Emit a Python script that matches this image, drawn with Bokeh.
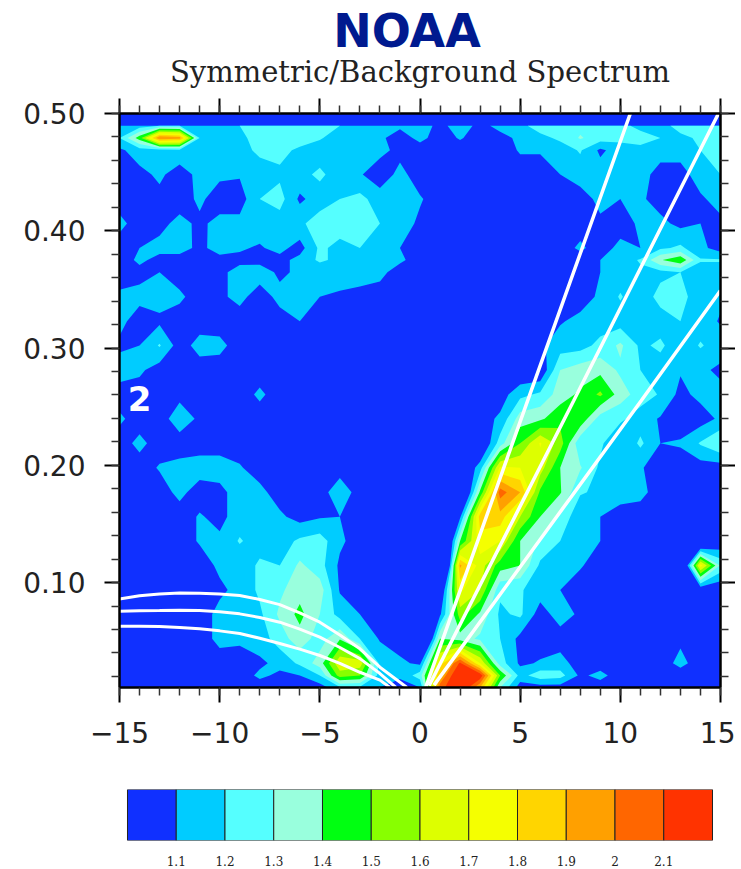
import numpy as np
from bokeh.plotting import figure
from bokeh.layouts import column
from bokeh.models import FixedTicker, LinearAxis, Label, Range1d
from bokeh.embed import file_html
from bokeh.resources import INLINE

wavenumber = list(range(-15, 16))
freq = [0.0104,0.0208,0.0312,0.0521,0.0729,0.0937,0.1146,0.1354,0.1562,0.1771,0.1979,0.2187,0.2396,0.2604,
        0.2812,0.3021,0.3229,0.3437,0.3646,0.3750,0.3854,0.4062,0.4271,0.4479,0.4687,0.4792,0.4896]

# ratio x 100, wavenumbers -15..0 | 1..15
r00 = [105,105,105,105,105,105,105,105,105,105,105,118,118,110,105,110, 205,225,190,130,105,105,105,105,105,105,105,105,105,105,105]
r01 = [105,105,105,105,105,105,105,112,108,110,120,155,150,115,112,125, 190,225,218,150,116,126,124,108,113,105,105,105,105,105,105]
r02 = [105,105,105,105,105,105,105,108,113,122,135,168,166,117,112,108, 175,212,170,125,108,111,114,105,105,105,105,105,113,105,105]
r03 = [105,105,105,105,105,113,112,115,125,136,125,139,120,109,105,60, 140,135,128,120,107,105,105,105,105,105,105,105,108,105,105]
r04 = [105,105,105,105,105,113,113,118,132,143,130,116,110,105,105,105, 108,155,138,118,122,105,115,108,105,105,105,105,105,105,105]
r05 = [105,105,105,105,105,108,113,122,128,136,135,109,105,105,105,90, 93,172,160,122,121,115,110,105,105,105,105,105,105,100,100]
r06 = [105,105,105,105,105,112,113,122,120,132,124,108,105,105,105,105, 30,192,165,145,140,118,113,111,105,105,105,105,75,175,128]
r07 = [105,105,105,105,111,112,121,115,115,122,125,112,105,105,105,105, 60,140,176,170,140,128,120,114,110,105,105,105,105,80,100]
r08 = [105,105,105,105,111,107,115,115,112,106,109,110,105,105,105,105, 105,108,185,186,160,140,127,113,110,105,105,105,105,105,105]
r09 = [105,105,105,113,105,107,115,113,105,105,105,117,105,105,105,105, 105,76,142,205,190,148,141,121,118,115,113,105,105,105,105]
r10 = [105,105,111,113,115,115,111,105,105,105,105,105,105,105,105,105, 105,95,115,172,170,165,140,131,118,115,111,105,105,105,105]
r11 = [105,113,105,105,105,105,105,105,105,105,105,105,105,105,105,105, 105,105,95,125,150,171,155,122,122,110,122,110,111,121,130]
r12 = [112,105,105,116,108,105,105,105,105,105,105,105,105,105,105,105, 105,105,105,112,135,138,147,148,125,122,115,109,105,105,112]
r13 = [105,105,108,107,105,105,105,112,105,105,105,105,105,105,105,105, 105,105,105,105,117,122,135,142,152,135,125,119,107,113,113]
r14 = [115,112,105,105,105,105,105,105,105,105,105,105,105,105,105,105, 105,105,105,105,100,100,130,135,137,128,120,115,111,112,108]
r15 = [108,110,121,105,114,113,105,105,105,105,105,105,105,105,105,105, 105,105,105,105,105,108,115,116,123,132,118,122,113,121,115]
r16 = [113,105,108,105,105,105,105,108,106,110,105,108,105,105,105,105, 105,105,105,105,105,105,109,113,115,115,118,115,120,115,109]
r17 = [112,113,114,112,105,108,113,105,113,115,110,108,105,105,105,105, 105,105,105,105,105,105,105,105,112,121,113,124,123,115,112]
r18 = [105,107,110,105,105,108,113,115,108,112,112,116,117,113,105,105, 105,105,105,105,105,105,105,105,110,115,118,117,120,115,115]
r19 = [105,112,107,105,108,106,108,107,107,113,122,117,118,115,112,105, 105,105,105,105,105,105,105,105,110,115,121,139,148,121,121]
r20 = [105,110,113,115,107,115,111,109,113,106,122,117,120,116,110,105, 105,105,105,105,105,105,105,112,105,113,110,118,122,113,105]
r21 = [113,105,107,113,108,113,113,115,115,118,125,125,125,120,115,108, 105,105,105,105,105,105,105,105,108,105,112,113,107,110,107]
r22 = [105,105,107,105,112,105,105,120,124,108,115,120,123,115,115,111, 105,105,105,105,105,105,105,105,113,110,112,105,110,108,115]
r23 = [105,107,112,105,113,112,111,113,118,117,122,115,111,104,113,105, 105,105,105,105,105,105,110,115,115,115,115,105,105,116,120]
r24 = [108,115,115,117,115,115,115,123,123,118,115,115,115,113,107,105, 105,105,105,105,111,111,115,121,108,115,115,115,115,120,125]
r25 = [120,145,200,195,120,115,117,125,125,125,121,115,115,112,105,113, 105,111,105,107,112,117,122,131,125,123,127,120,117,122,122]
r26 = [112,115,120,120,115,115,120,130,130,130,125,120,115,115,112,115, 107,115,107,113,117,125,125,127,130,125,115,115,125,127,130]

rows = [r00,r01,r02,r03,r04,r05,r06,r07,r08,r09,r10,r11,r12,r13,r14,r15,r16,r17,r18,r19,r20,r21,r22,r23,r24,r25,r26]

levels = [1.1,1.2,1.3,1.4,1.5,1.6,1.7,1.8,1.9,2.0,2.1]
level_top = 3.0
below_color = "#1030FF"
colors = ["#00CCFF","#55FFFF","#99FFDD","#00FF11","#88FF00","#DDFF00","#F5FF00","#FFD500","#FFA000","#FF6600","#FF3300"]
bar_labels = ["1.1","1.2","1.3","1.4","1.5","1.6","1.7","1.8","1.9","2","2.1"]

# Kelvin and equatorial Rossby curves
kelvin_50_k = [0.3, 5.37, 10.5];  kelvin_50_f = [0.0115, 0.255, 0.5]
kelvin_25_k = [0.45, 7.67, 14.9]; kelvin_25_f = [0.012, 0.255, 0.5]
kelvin_12_k = [0.7, 11.04, 15];   kelvin_12_f = [0.0125, 0.255, 0.349]
er_k = [-15,-14,-13,-12,-11,-10,-9,-8,-7,-6,-5,-4,-3,-2]
er_top_f = [0.0860,0.0887,0.0903,0.0910,0.0909,0.0903,0.0889,0.0856,0.0812,0.0742,0.0662,0.0553,0.0435,0.0278]
er_mid_f = [0.0755,0.0760,0.0761,0.0763,0.0761,0.0750,0.0733,0.0702,0.0662,0.0603,0.0534,0.0446,0.0351,0.0224]
er_low_f = [0.0627,0.0627,0.0625,0.0617,0.0606,0.0588,0.0565,0.0525,0.0480,0.0432,0.0378,0.0310,0.0235,0.0168]
er_end_k = [-0.65,-1.2,-1.5]
er_end_f = 0.0105

x_major = [-15,-10,-5,0,5,10,15]
x_minor = list(range(-15,16))
y_major = [0.1,0.2,0.3,0.4,0.5]
y_minor = [0.02,0.04,0.06,0.08,0.1,0.12,0.14,0.16,0.18,0.2,0.22,0.24,0.26,0.28,0.3,0.32,0.34,0.36,0.38,0.4,0.42,0.44,0.46,0.48,0.5]

border_left = 119
frame_w = 601

header = figure(frame_width=frame_w, frame_height=90, x_range=Range1d(-15,15), y_range=Range1d(0,90),
                output_backend="svg", toolbar_location=None, outline_line_color=None,
                min_border_left=border_left, min_border_right=15, min_border_top=0, min_border_bottom=0)
header.xaxis.visible=False; header.yaxis.visible=False
header.xgrid.visible=False; header.ygrid.visible=False
header.add_layout(Label(x=-0.65,y=60,text="NOAA",text_font="DejaVu Sans",text_font_style="bold",text_font_size="46px",
                   text_color="#001A8F",text_align="center",text_baseline="middle"))
header.add_layout(Label(x=0,y=19,text="Symmetric/Background Spectrum",text_font="DejaVu Serif",text_font_size="29px",
                   text_color="#222222",text_align="center",text_baseline="middle"))

p = figure(frame_width=frame_w, frame_height=574, x_range=Range1d(-15,15), y_range=Range1d(0.0105,0.5),
           output_backend="svg", toolbar_location=None,
           min_border_left=border_left, min_border_top=23, min_border_bottom=73, min_border_right=15,
           background_fill_color=below_color, outline_line_color=None)
p.xgrid.visible = False
p.ygrid.visible = False
z = np.array(rows, dtype=float)/100
xs = np.array(wavenumber,dtype=float); ys = np.array(freq)
for lev,col in zip(levels,colors):
    p.contour(xs, ys, z, [lev,level_top], fill_color=[col])

for kk,ff in ((kelvin_50_k,kelvin_50_f),(kelvin_25_k,kelvin_25_f),(kelvin_12_k,kelvin_12_f)):
    p.line(kk, ff, line_color="white", line_width=3.5)
for ff,end in ((er_top_f,er_end_k[0]),(er_mid_f,er_end_k[1]),(er_low_f,er_end_k[2])):
    p.line(er_k+[end], ff+[er_end_f], line_color="white", line_width=3)

tick_x = FixedTicker(ticks=x_major, minor_ticks=x_minor)
tick_y = FixedTicker(ticks=y_major, minor_ticks=y_minor)
below_ax = p.below[0]; left_ax = p.left[0]
below_ax.ticker = tick_x
left_ax.ticker = tick_y
below_ax.major_label_overrides = {-15:"\u221215",-10:"\u221210",-5:"\u22125",0:"0",5:"5",10:"10",15:"15"}
left_ax.major_label_overrides = {0.1:"0.10",0.2:"0.20",0.3:"0.30",0.4:"0.40",0.5:"0.50"}
above = LinearAxis(ticker=tick_x); right = LinearAxis(ticker=tick_y)
p.add_layout(above,"above"); p.add_layout(right,"right")
above.major_label_overrides = {v:"" for v in x_major}
right.major_label_overrides = {v:"" for v in y_major}
for ax in (above,right):
    ax.major_label_standoff=0
for ax in (below_ax,left_ax,above,right):
    ax.axis_line_color="black"; ax.axis_line_width=2.5
    ax.major_tick_line_color="black"; ax.major_tick_line_width=2
    ax.minor_tick_line_color="#333333"; ax.minor_tick_line_width=1.5
    ax.major_tick_in=0; ax.major_tick_out=15
    ax.minor_tick_in=0; ax.minor_tick_out=8
for ax in (below_ax,left_ax):
    ax.major_label_text_font="DejaVu Sans"
    ax.major_label_text_font_size="28px"
    ax.major_label_text_color="#222222"
below_ax.major_label_standoff=19
left_ax.major_label_standoff=19

p.add_layout(Label(x=-14.0,y=0.2569,text="2",text_font="DejaVu Sans",text_font_style="bold",text_font_size="34px",
                   text_color="white",text_align="center",text_baseline="middle"))

cb = figure(frame_width=frame_w, frame_height=51, x_range=Range1d(-0.164,12.164), y_range=Range1d(0,1),
            output_backend="svg", toolbar_location=None,
            min_border_left=border_left, min_border_top=29, min_border_bottom=21, min_border_right=15, outline_line_color=None)
cb.xgrid.visible=False; cb.ygrid.visible=False
cb.yaxis.visible=False
edges = np.arange(len(colors)+2)
cb.quad(left=edges[:-1], right=edges[1:], bottom=0, top=1, fill_color=[below_color]+colors, line_color="#222222", line_width=1)
cb.xaxis.ticker = FixedTicker(ticks=list(range(1,12)))
cb.xaxis.major_label_overrides = {i+1:t for i,t in enumerate(bar_labels)}
cb.xaxis.axis_line_color=None
cb.xaxis.major_tick_line_color=None
cb.xaxis.minor_tick_line_color=None
cb.xaxis.major_label_text_font="DejaVu Serif"
cb.xaxis.major_label_text_font_size="12px"
cb.xaxis.major_label_text_color="#222222"
cb.xaxis.major_label_standoff=9

layout = column(header, p, cb, spacing=0)
open("out.html","w").write(file_html(layout, INLINE))
